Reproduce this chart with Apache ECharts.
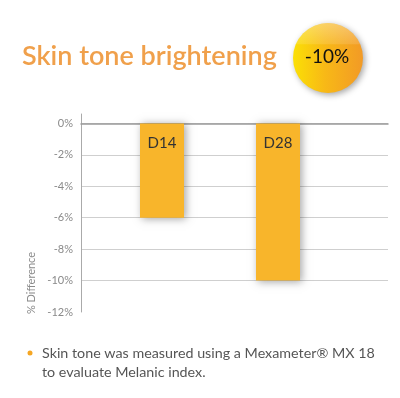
<!DOCTYPE html>
<html>
<head>
<meta charset="utf-8">
<script src="https://cdn.jsdelivr.net/npm/echarts@6/dist/echarts.min.js"></script>
<style>
  html, body { margin: 0; padding: 0; background: #fff; }
  #chart { width: 400px; height: 398px; }
</style>
</head>
<body>
<div id="chart"></div>
<script>
// data
const days = ['D14', 'D28'];
const diffValues = [-6, -10];
const yMin = -12;
const yMax = 0.6; // axis line pokes a little above 0%
const yStep = 2;
const titleText = 'Skin tone brightening';
const badgeText = '-10%';
const noteText = 'Skin tone was measured using a Mexameter® MX 18\nto evaluate Melanic index.';

const barColor = '#F8B52B';
const orange = '#F0A04B';

var myChart = echarts.init(document.getElementById('chart'));

const getOptions = () => {
  return {
    animation: false,
    grid: [
      // grid 0 only carries the y axis + gridlines over the full width
      { left: 81, right: 12, top: 114, bottom: 86 },
      // grid 1 holds the bars (narrower so they sit where the original has them)
      { left: 104, right: 64, top: 114, bottom: 86 }
    ],
    xAxis: [
      {
        gridIndex: 0,
        type: 'category',
        data: [''],
        axisLine: { show: true, lineStyle: { color: '#9a9a9a', width: 1.5 } },
        axisTick: { show: false },
        axisLabel: { show: false }
      },
      {
        gridIndex: 1,
        type: 'category',
        data: days,
        show: false
      }
    ],
    yAxis: [
      {
        gridIndex: 0,
        type: 'value',
        min: yMin,
        max: yMax,
        interval: yStep,
        axisLine: { show: true, lineStyle: { color: '#aaaaaa', width: 1 } },
        axisTick: { show: false },
        axisLabel: {
          color: '#8a8a8a',
          fontSize: 11,
          fontFamily: 'Lato',
          margin: 8,
          showMaxLabel: false,
          formatter: function (val) {
            // only the even steps get a label
            return val % yStep === 0 ? val + '%' : '';
          }
        },
        splitLine: {
          show: true,
          showMinLine: false,
          showMaxLine: false,
          lineStyle: { color: '#cfcfcf', width: 1 }
        }
      },
      {
        gridIndex: 1,
        type: 'value',
        min: yMin,
        max: yMax,
        interval: yStep,
        show: false,
        splitLine: { show: false }
      }
    ],
    series: [
      {
        type: 'bar',
        xAxisIndex: 1,
        yAxisIndex: 1,
        data: diffValues,
        barWidth: 44,
        itemStyle: {
          color: barColor,
          shadowColor: 'rgba(0,0,0,0.35)',
          shadowBlur: 8,
          shadowOffsetX: 2,
          shadowOffsetY: 1
        },
        label: {
          show: true,
          position: 'insideTop',
          distance: 12,
          formatter: '{b}',
          color: '#333',
          fontSize: 15,
          fontFamily: 'Lato'
        }
      }
    ],
    graphic: [
      {
        type: 'text',
        left: 22,
        top: 43,
        style: {
          text: titleText,
          fill: orange,
          font: '600 27px Lato'
        }
      },
      // badge
      {
        type: 'circle',
        shape: { cx: 328, cy: 58, r: 35 },
        style: {
          fill: new echarts.graphic.LinearGradient(0, 0, 1, 0, [
            { offset: 0, color: '#FBE005' },
            { offset: 0.45, color: '#F8B916' },
            { offset: 1, color: '#F29A26' }
          ]),
          shadowColor: 'rgba(0,0,0,0.35)',
          shadowBlur: 6,
          shadowOffsetX: 2,
          shadowOffsetY: 2
        }
      },
      {
        type: 'circle',
        shape: { cx: 328, cy: 58, r: 35 },
        style: {
          fill: new echarts.graphic.LinearGradient(0, 0, 0, 1, [
            { offset: 0, color: 'rgba(255,255,255,0.35)' },
            { offset: 0.3, color: 'rgba(255,255,255,0.12)' },
            { offset: 0.31, color: 'rgba(255,255,255,0)' },
            { offset: 1, color: 'rgba(255,255,255,0)' }
          ])
        }
      },
      {
        type: 'text',
        x: 327,
        y: 57,
        style: {
          text: badgeText,
          fill: '#111',
          font: '19px Lato',
          textAlign: 'center',
          textVerticalAlign: 'middle'
        }
      },
      // y axis name
      {
        type: 'text',
        x: 31,
        y: 283,
        rotation: Math.PI / 2,
        style: {
          text: '% Difference',
          fill: '#8a8a8a',
          font: '11px Lato',
          textAlign: 'center',
          textVerticalAlign: 'middle'
        }
      },
      // footnote
      {
        type: 'circle',
        shape: { cx: 30, cy: 353, r: 2.5 },
        style: { fill: '#F5A623' }
      },
      {
        type: 'text',
        left: 42,
        top: 344,
        style: {
          text: noteText,
          fill: '#555',
          font: '14.3px Lato',
          lineHeight: 19
        }
      }
    ]
  };
};

myChart.setOption(getOptions());
</script>
</body>
</html>
